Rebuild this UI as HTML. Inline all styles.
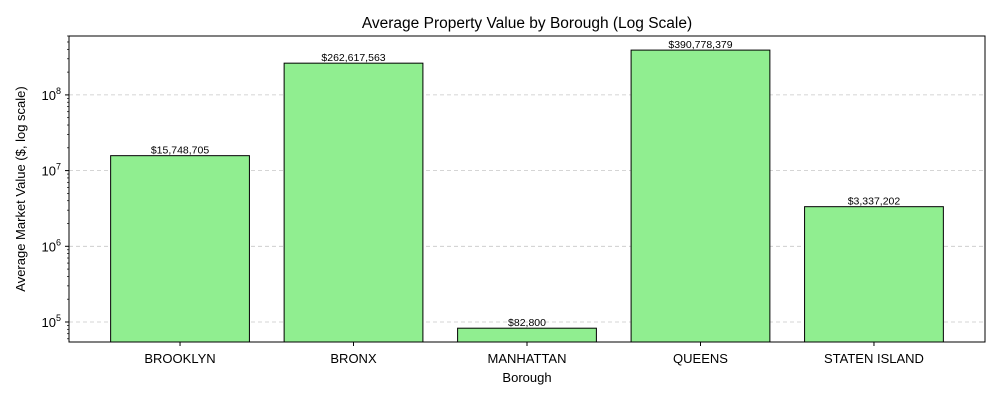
<!DOCTYPE html>
<html><head><meta charset="utf-8"><style>
body{margin:0;background:#fff;}
svg text{font-family:"Liberation Sans","DejaVu Sans",sans-serif;}
</style></head><body>
<svg id="chart" width="1000" height="400" xmlns="http://www.w3.org/2000/svg"></svg>
<script>
const categories=["BROOKLYN","BRONX","MANHATTAN","QUEENS","STATEN ISLAND"];
const values=[15748705,262617563,82800,390778379,3337202];
const valueLabels=["$15,748,705","$262,617,563","$82,800","$390,778,379","$3,337,202"];
const yTickExps=[5,6,7,8];

const svg=document.getElementById('chart');
const NS='http://www.w3.org/2000/svg';
const L=69,R=985,T=36,B=342;
const xMin=-0.64,xMax=4.64;
const yLogMin=Math.log10(54400),yLogMax=Math.log10(6.0e8);
const xs=v=>L+(v-xMin)/(xMax-xMin)*(R-L);
const ys=v=>B-(Math.log10(v)-yLogMin)/(yLogMax-yLogMin)*(B-T);
function el(tag,attrs,text){const e=document.createElementNS(NS,tag);for(const k in attrs)e.setAttribute(k,attrs[k]);if(text!==undefined)e.textContent=text;svg.appendChild(e);return e;}

// grid
yTickExps.forEach(p=>{const y=ys(Math.pow(10,p));
const g=el('line',{x1:L,x2:R,y1:y,y2:y,stroke:'#b0b0b0','stroke-width':0.8,'stroke-dasharray':'4,3',opacity:0.7});

});

// bars
categories.forEach((c,i)=>{
const x0=xs(i-0.4),x1=xs(i+0.4),y=ys(values[i]);
const b=el('rect',{x:x0,y:y,width:x1-x0,height:B-y,fill:'#90ee90',stroke:'#000','stroke-width':1});


const t=el('text',{x:xs(i),y:y-2,'text-anchor':'middle','font-size':10.5,fill:'#000'},valueLabels[i]);


const tk=el('line',{x1:xs(i),x2:xs(i),y1:B,y2:B+4,stroke:'#000'});


const tl=el('text',{x:xs(i),y:B+21,'text-anchor':'middle','font-size':13,fill:'#000'},c);


});

// minor ticks
for(let p=4;p<=8;p++){for(let m=2;m<=9;m++){const v=m*Math.pow(10,p);const y=ys(v);if(y<T||y>B)continue;
const mt=el('line',{x1:L-2,x2:L,y1:y,y2:y,stroke:'#000','stroke-width':0.7});

}}

// major ticks
yTickExps.forEach(p=>{const y=ys(Math.pow(10,p));
const tk=el('line',{x1:L-4,x2:L,y1:y,y2:y,stroke:'#000'});


const t=el('text',{x:L-8,y:y+5,'text-anchor':'end','font-size':13,fill:'#000'});


t.appendChild(document.createTextNode('10'));
const s=document.createElementNS(NS,'tspan');s.setAttribute('dy','-6');s.setAttribute('font-size','9');s.textContent=String(p);t.appendChild(s);
});

const frame=el('rect',{x:L,y:T,width:R-L,height:B-T,fill:'none',stroke:'#000','stroke-width':1});


const title=el('text',{x:(L+R)/2,y:28,'text-anchor':'middle','font-size':15.5,fill:'#000'},'Average Property Value by Borough (Log Scale)');


const xt=el('text',{x:(L+R)/2,y:382,'text-anchor':'middle','font-size':13,fill:'#000'},'Borough');


const yt=el('text',{x:0,y:0,'text-anchor':'middle','font-size':13,fill:'#000',transform:'translate(25,189) rotate(-90)'},'Average Market Value ($, log scale)');


</script>
</body></html>
